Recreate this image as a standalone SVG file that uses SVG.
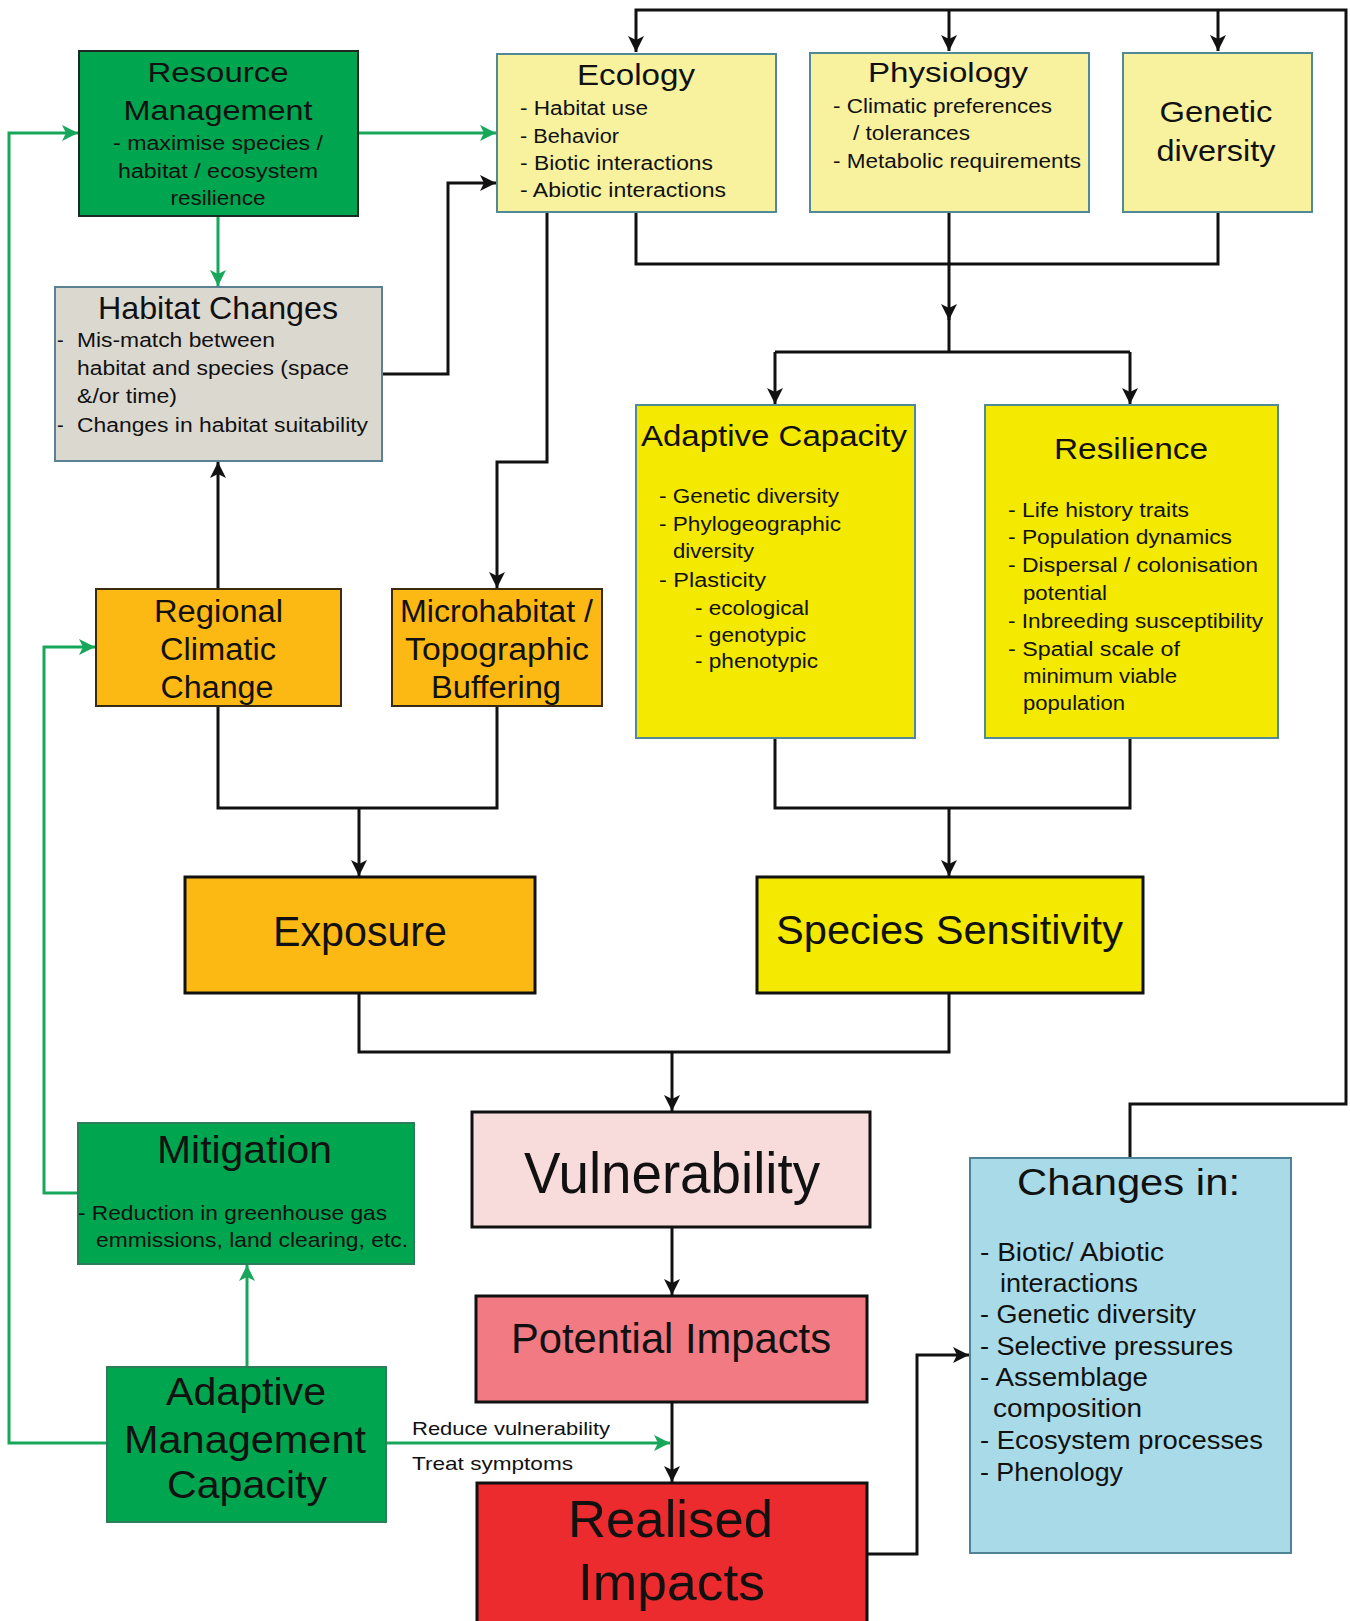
<svg xmlns="http://www.w3.org/2000/svg" width="1350" height="1621" viewBox="0 0 1350 1621">
<style>
text{font-family:"Liberation Sans",Arial,sans-serif;fill:#111;}
.c{text-anchor:middle;}
.k{fill:none;stroke:#111;stroke-width:3;}
.g{fill:none;stroke:#16a75a;stroke-width:3;}
.bx{stroke-width:2;}
</style>
<defs>
<marker id="ab" viewBox="0 0 16 16" refX="16" refY="8" markerWidth="16" markerHeight="16" markerUnits="userSpaceOnUse" orient="auto"><path d="M0,0 L16,8 L0,16 L4,8 z" fill="#111"/></marker>
<marker id="ag" viewBox="0 0 16 16" refX="16" refY="8" markerWidth="16" markerHeight="16" markerUnits="userSpaceOnUse" orient="auto"><path d="M0,0 L16,8 L0,16 L4,8 z" fill="#16a75a"/></marker>
</defs>
<rect width="1350" height="1621" fill="#fff"/>

<g id="connectors">
<path class="k" d="M1130,1158 V1104 H1346 V10 H636 V52" marker-end="url(#ab)"/>
<path class="k" d="M949,10 V51" marker-end="url(#ab)"/>
<path class="k" d="M1218,10 V51" marker-end="url(#ab)"/>
<path class="k" d="M636,212 V264 H1218 V212"/>
<path class="k" d="M949,212 V320" marker-end="url(#ab)"/>
<path class="k" d="M949,316 V352"/>
<path class="k" d="M775,352 H1130"/>
<path class="k" d="M775,352 V404" marker-end="url(#ab)"/>
<path class="k" d="M1130,352 V404" marker-end="url(#ab)"/>
<path class="k" d="M382,374 H448 V183 H496" marker-end="url(#ab)"/>
<path class="k" d="M547,212 V462 H497 V588" marker-end="url(#ab)"/>
<path class="k" d="M218,589 V462" marker-end="url(#ab)"/>
<path class="k" d="M218,706 V808 H497 V706"/>
<path class="k" d="M359,808 V876" marker-end="url(#ab)"/>
<path class="k" d="M775,738 V808 H1130 V738"/>
<path class="k" d="M949,808 V876" marker-end="url(#ab)"/>
<path class="k" d="M359,993 V1052 H949 V993"/>
<path class="k" d="M672,1052 V1111" marker-end="url(#ab)"/>
<path class="k" d="M672,1227 V1295" marker-end="url(#ab)"/>
<path class="k" d="M672,1402 V1482" marker-end="url(#ab)"/>
<path class="k" d="M867,1554 H917 V1355 H969" marker-end="url(#ab)"/>
<path class="g" d="M358,133 H496" marker-end="url(#ag)"/>
<path class="g" d="M218,216 V286" marker-end="url(#ag)"/>
<path class="g" d="M107,1443 H9 V133 H78" marker-end="url(#ag)"/>
<path class="g" d="M78,1193 H44 V647 H95" marker-end="url(#ag)"/>
<path class="g" d="M247,1367 V1265" marker-end="url(#ag)"/>
<path class="g" d="M386,1443 H670" marker-end="url(#ag)"/>
<text x="412" y="1435" font-size="19" textLength="198" lengthAdjust="spacingAndGlyphs">Reduce vulnerability</text>
<text x="412" y="1470" font-size="19" textLength="161" lengthAdjust="spacingAndGlyphs">Treat symptoms</text>
</g>

<g id="resource-management">
<rect x="79" y="51" width="279" height="165" fill="#00a54f" stroke="#1d2a22" class="bx"/>
<text class="c" x="218" y="82" font-size="28" textLength="141" lengthAdjust="spacingAndGlyphs">Resource</text>
<text class="c" x="218" y="120" font-size="28" textLength="189" lengthAdjust="spacingAndGlyphs">Management</text>
<text class="c" x="218" y="150" font-size="20" textLength="210" lengthAdjust="spacingAndGlyphs">- maximise species /</text>
<text class="c" x="218" y="178" font-size="20" textLength="200" lengthAdjust="spacingAndGlyphs">habitat / ecosystem</text>
<text class="c" x="218" y="205" font-size="20" textLength="95" lengthAdjust="spacingAndGlyphs">resilience</text>
</g>

<g id="ecology">
<rect x="497" y="54" width="279" height="158" fill="#f8f29f" stroke="#4f8a96" class="bx"/>
<text class="c" x="636" y="85" font-size="29" textLength="118" lengthAdjust="spacingAndGlyphs">Ecology</text>
<text x="520" y="115" font-size="20" textLength="128" lengthAdjust="spacingAndGlyphs">- Habitat use</text>
<text x="520" y="143" font-size="20" textLength="99" lengthAdjust="spacingAndGlyphs">- Behavior</text>
<text x="520" y="170" font-size="20" textLength="193" lengthAdjust="spacingAndGlyphs">- Biotic interactions</text>
<text x="520" y="197" font-size="20" textLength="206" lengthAdjust="spacingAndGlyphs">- Abiotic interactions</text>
</g>

<g id="physiology">
<rect x="810" y="53" width="279" height="159" fill="#f8f29f" stroke="#4f8a96" class="bx"/>
<text class="c" x="948" y="82" font-size="28" textLength="160" lengthAdjust="spacingAndGlyphs">Physiology</text>
<text x="833" y="113" font-size="20" textLength="219" lengthAdjust="spacingAndGlyphs">- Climatic preferences</text>
<text x="853" y="140" font-size="20" textLength="117" lengthAdjust="spacingAndGlyphs">/ tolerances</text>
<text x="833" y="168" font-size="20" textLength="248" lengthAdjust="spacingAndGlyphs">- Metabolic requirements</text>
</g>

<g id="genetic-diversity">
<rect x="1123" y="53" width="189" height="159" fill="#f8f29f" stroke="#4f8a96" class="bx"/>
<text class="c" x="1216" y="122" font-size="30" textLength="113" lengthAdjust="spacingAndGlyphs">Genetic</text>
<text class="c" x="1216" y="161" font-size="30" textLength="119" lengthAdjust="spacingAndGlyphs">diversity</text>
</g>

<g id="habitat-changes">
<rect x="55" y="287" width="327" height="174" fill="#dbd8d0" stroke="#5b8294" class="bx"/>
<text class="c" x="218" y="319" font-size="32" textLength="240" lengthAdjust="spacingAndGlyphs">Habitat Changes</text>
<text x="57" y="347" font-size="20">-</text>
<text x="77" y="347" font-size="20" textLength="198" lengthAdjust="spacingAndGlyphs">Mis-match between</text>
<text x="77" y="375" font-size="20" textLength="272" lengthAdjust="spacingAndGlyphs">habitat and species (space</text>
<text x="77" y="403" font-size="20" textLength="100" lengthAdjust="spacingAndGlyphs">&amp;/or time)</text>
<text x="57" y="432" font-size="20">-</text>
<text x="77" y="432" font-size="20" textLength="291" lengthAdjust="spacingAndGlyphs">Changes in habitat suitability</text>
</g>

<g id="regional-climatic-change">
<rect x="96" y="589" width="245" height="117" fill="#fdb913" stroke="#3a2a10" class="bx"/>
<text class="c" x="218.5" y="622" font-size="31" textLength="129" lengthAdjust="spacingAndGlyphs">Regional</text>
<text class="c" x="218" y="660" font-size="31" textLength="116" lengthAdjust="spacingAndGlyphs">Climatic</text>
<text class="c" x="217" y="698" font-size="31" textLength="113" lengthAdjust="spacingAndGlyphs">Change</text>
</g>

<g id="microhabitat">
<rect x="392" y="589" width="210" height="117" fill="#fdb913" stroke="#3a2a10" class="bx"/>
<text class="c" x="496.5" y="622" font-size="31" textLength="193" lengthAdjust="spacingAndGlyphs">Microhabitat /</text>
<text class="c" x="497" y="660" font-size="31" textLength="184" lengthAdjust="spacingAndGlyphs">Topographic</text>
<text class="c" x="496" y="698" font-size="31" textLength="130" lengthAdjust="spacingAndGlyphs">Buffering</text>
</g>

<g id="adaptive-capacity">
<rect x="636" y="405" width="279" height="333" fill="#f4e900" stroke="#4f8a96" class="bx"/>
<text class="c" x="774" y="446" font-size="29" textLength="266" lengthAdjust="spacingAndGlyphs">Adaptive Capacity</text>
<text x="659" y="503" font-size="20" textLength="180" lengthAdjust="spacingAndGlyphs">- Genetic diversity</text>
<text x="659" y="531" font-size="20" textLength="182" lengthAdjust="spacingAndGlyphs">- Phylogeographic</text>
<text x="673" y="558" font-size="20" textLength="81" lengthAdjust="spacingAndGlyphs">diversity</text>
<text x="659" y="587" font-size="20" textLength="107" lengthAdjust="spacingAndGlyphs">- Plasticity</text>
<text x="695" y="615" font-size="20" textLength="114" lengthAdjust="spacingAndGlyphs">- ecological</text>
<text x="695" y="642" font-size="20" textLength="111" lengthAdjust="spacingAndGlyphs">- genotypic</text>
<text x="695" y="668" font-size="20" textLength="123" lengthAdjust="spacingAndGlyphs">- phenotypic</text>
</g>

<g id="resilience">
<rect x="985" y="405" width="293" height="333" fill="#f4e900" stroke="#4f8a96" class="bx"/>
<text class="c" x="1131" y="459" font-size="29" textLength="154" lengthAdjust="spacingAndGlyphs">Resilience</text>
<text x="1008" y="517" font-size="20" textLength="181" lengthAdjust="spacingAndGlyphs">- Life history traits</text>
<text x="1008" y="544" font-size="20" textLength="224" lengthAdjust="spacingAndGlyphs">- Population dynamics</text>
<text x="1008" y="572" font-size="20" textLength="250" lengthAdjust="spacingAndGlyphs">- Dispersal / colonisation</text>
<text x="1023" y="600" font-size="20" textLength="84" lengthAdjust="spacingAndGlyphs">potential</text>
<text x="1008" y="628" font-size="20" textLength="255" lengthAdjust="spacingAndGlyphs">- Inbreeding susceptibility</text>
<text x="1008" y="656" font-size="20" textLength="172" lengthAdjust="spacingAndGlyphs">- Spatial scale of</text>
<text x="1023" y="683" font-size="20" textLength="154" lengthAdjust="spacingAndGlyphs">minimum viable</text>
<text x="1023" y="710" font-size="20" textLength="102" lengthAdjust="spacingAndGlyphs">population</text>
</g>

<g id="exposure">
<rect x="185" y="877" width="350" height="116" fill="#fdb913" stroke="#111" stroke-width="3"/>
<text class="c" x="360" y="946" font-size="42" textLength="174" lengthAdjust="spacingAndGlyphs">Exposure</text>
</g>

<g id="species-sensitivity">
<rect x="757" y="877" width="386" height="116" fill="#f4e900" stroke="#111" stroke-width="3"/>
<text class="c" x="949.5" y="944" font-size="41" textLength="347" lengthAdjust="spacingAndGlyphs">Species Sensitivity</text>
</g>

<g id="vulnerability">
<rect x="472" y="1112" width="398" height="115" fill="#f8dcdb" stroke="#111" stroke-width="3"/>
<text class="c" x="672" y="1193" font-size="58" textLength="296" lengthAdjust="spacingAndGlyphs">Vulnerability</text>
</g>

<g id="potential-impacts">
<rect x="476" y="1296" width="391" height="106" fill="#f27a83" stroke="#111" stroke-width="3"/>
<text class="c" x="671" y="1353" font-size="42" textLength="320" lengthAdjust="spacingAndGlyphs">Potential Impacts</text>
</g>

<g id="realised-impacts">
<rect x="477" y="1483" width="390" height="160" fill="#ec2b2f" stroke="#111" stroke-width="3"/>
<text class="c" x="670.5" y="1537" font-size="52" textLength="205" lengthAdjust="spacingAndGlyphs">Realised</text>
<text class="c" x="671.5" y="1600" font-size="52" textLength="187" lengthAdjust="spacingAndGlyphs">Impacts</text>
</g>

<g id="changes-in">
<rect x="970" y="1158" width="321" height="395" fill="#a8dae7" stroke="#4f8296" class="bx"/>
<text class="c" x="1128.5" y="1195" font-size="36" textLength="223" lengthAdjust="spacingAndGlyphs">Changes in:</text>
<text x="980" y="1261" font-size="25" textLength="184" lengthAdjust="spacingAndGlyphs">- Biotic/ Abiotic</text>
<text x="1000" y="1292" font-size="25" textLength="138" lengthAdjust="spacingAndGlyphs">interactions</text>
<text x="980" y="1323" font-size="25" textLength="216" lengthAdjust="spacingAndGlyphs">- Genetic diversity</text>
<text x="980" y="1355" font-size="25" textLength="253" lengthAdjust="spacingAndGlyphs">- Selective pressures</text>
<text x="980" y="1386" font-size="25" textLength="168" lengthAdjust="spacingAndGlyphs">- Assemblage</text>
<text x="993" y="1417" font-size="25" textLength="149" lengthAdjust="spacingAndGlyphs">composition</text>
<text x="980" y="1449" font-size="25" textLength="283" lengthAdjust="spacingAndGlyphs">- Ecosystem processes</text>
<text x="980" y="1481" font-size="25" textLength="143" lengthAdjust="spacingAndGlyphs">- Phenology</text>
</g>

<g id="mitigation">
<rect x="78" y="1123" width="336" height="141" fill="#00a54f" stroke="#2e7d5a" class="bx"/>
<text class="c" x="244.5" y="1163" font-size="39" textLength="175" lengthAdjust="spacingAndGlyphs">Mitigation</text>
<text x="78" y="1220" font-size="21" textLength="309" lengthAdjust="spacingAndGlyphs">- Reduction in greenhouse gas</text>
<text x="96" y="1247" font-size="21" textLength="312" lengthAdjust="spacingAndGlyphs">emmissions, land clearing, etc.</text>
</g>

<g id="adaptive-management-capacity">
<rect x="107" y="1367" width="279" height="155" fill="#00a54f" stroke="#2e7d5a" class="bx"/>
<text class="c" x="246" y="1405" font-size="38" textLength="160" lengthAdjust="spacingAndGlyphs">Adaptive</text>
<text class="c" x="245" y="1453" font-size="38" textLength="242" lengthAdjust="spacingAndGlyphs">Management</text>
<text class="c" x="247" y="1498" font-size="38" textLength="160" lengthAdjust="spacingAndGlyphs">Capacity</text>
</g>
</svg>
